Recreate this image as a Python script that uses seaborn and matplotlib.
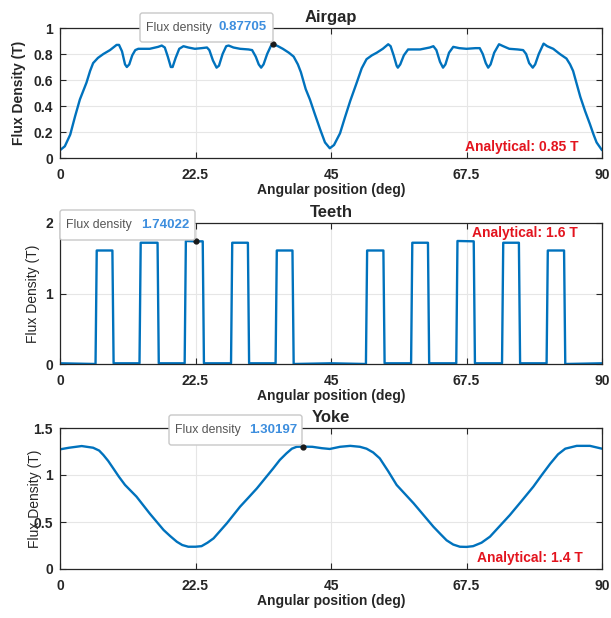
import numpy as np
import pandas as pd
import seaborn as sns
import matplotlib
matplotlib.use("Agg")
from matplotlib import pyplot as plt
from matplotlib.patches import FancyBboxPatch

# ---- data ----
airgap_deg = [0, 0.8, 1.7, 2.5, 3.3, 4.4, 5.0, 5.5, 6.3, 7.2, 8.3, 9.4, 9.8, 10.3, 10.8, 11.1, 11.5,
              12.0, 12.5, 13.0, 14.9, 16.3, 16.9, 17.4, 17.9, 18.4, 18.7, 19.2, 19.8, 20.5, 21.3,
              22.4, 23.5, 24.4, 24.8, 25.4, 26.0, 26.4, 27.0, 27.6, 28.0, 28.8, 29.9, 31.3, 31.9,
              32.5, 33.0, 33.4, 33.8, 34.4, 35.0, 35.4, 36.2, 37.0, 38.0, 38.8, 39.5, 40.0, 40.8,
              41.5, 42.3, 43.2, 44.0, 44.8, 45.5, 46.5, 47.3, 48.2, 49.2, 50.1, 50.9, 51.8, 52.6,
              53.6, 54.5, 54.9, 55.4, 55.9, 56.1, 56.5, 57.1, 57.8, 59.8, 61.4, 62.0, 62.5, 63.1,
              63.6, 64.0, 64.6, 65.3, 66.3, 67.5, 69.0, 69.7, 70.2, 70.7, 71.1, 71.5, 72.1, 72.9,
              73.6, 74.6, 76.0, 76.9, 77.4, 77.9, 78.5, 78.9, 79.5, 80.3, 80.9, 81.9, 83.0, 84.1,
              84.7, 85.2, 85.8, 86.4, 87.2, 88.0, 88.6, 89.1, 90]
airgap_b = [0.06, 0.09, 0.18, 0.32, 0.45, 0.58, 0.67, 0.73, 0.77, 0.80, 0.83, 0.87, 0.87, 0.82, 0.72,
            0.70, 0.72, 0.79, 0.83, 0.84, 0.84, 0.855, 0.865, 0.85, 0.78, 0.70, 0.70, 0.77, 0.84,
            0.86, 0.85, 0.84, 0.845, 0.85, 0.83, 0.75, 0.695, 0.71, 0.80, 0.86, 0.865, 0.85, 0.84,
            0.835, 0.83, 0.78, 0.72, 0.695, 0.72, 0.80, 0.86, 0.877, 0.86, 0.84, 0.81, 0.78, 0.72,
            0.66, 0.53, 0.45, 0.34, 0.22, 0.12, 0.075, 0.10, 0.19, 0.31, 0.44, 0.57, 0.69, 0.76,
            0.79, 0.81, 0.84, 0.875, 0.86, 0.79, 0.71, 0.695, 0.72, 0.79, 0.835, 0.835, 0.85, 0.86,
            0.83, 0.74, 0.695, 0.72, 0.81, 0.855, 0.845, 0.84, 0.845, 0.845, 0.80, 0.73, 0.695,
            0.72, 0.81, 0.875, 0.86, 0.84, 0.835, 0.83, 0.80, 0.73, 0.695, 0.72, 0.80, 0.88, 0.86,
            0.84, 0.80, 0.765, 0.72, 0.67, 0.57, 0.47, 0.36, 0.26, 0.18, 0.12, 0.06]

teeth_deg = [0, 5.9, 6.1, 8.7, 8.9, 13.2, 13.4, 16.2, 16.4, 20.7, 20.9, 22.5, 23.7, 23.9, 28.4, 28.6,
             31.2, 31.4, 35.8, 36.0, 38.6, 38.8, 45, 50.8, 51.0, 53.7, 53.9, 58.3, 58.5, 61.1, 61.3,
             65.8, 66.0, 68.7, 68.9, 73.4, 73.6, 76.2, 76.4, 80.8, 81.0, 83.7, 83.9, 90]
teeth_b = [0.01, 0.0, 1.61, 1.61, 0.01, 0.01, 1.72, 1.72, 0.01, 0.01, 1.745, 1.74, 1.74, 0.01, 0.01,
           1.72, 1.72, 0.01, 0.01, 1.61, 1.61, 0.0, 0.01, 0.0, 1.61, 1.61, 0.01, 0.01, 1.72, 1.72,
           0.01, 0.01, 1.745, 1.74, 0.01, 0.01, 1.72, 1.72, 0.01, 0.01, 1.61, 1.61, 0.0, 0.01]

yoke_deg = [0, 1.5, 3.6, 5.5, 6.5, 7.2, 8.0, 8.85, 9.8, 10.8, 12.7, 14.9, 17.2, 18.3, 19.4, 20.3, 21.3,
            22.5, 23.5, 24.5, 25.5, 27.7, 29.9, 31.3, 32.7, 35.4, 36.5, 37.6, 38.5, 39.3, 40.3, 41.9,
            43.5, 44.8, 46.5, 48.2, 49.8, 50.9, 52.0, 53.1, 54.5, 55.9, 58.7, 62.0, 63.2, 64.2, 65.3,
            66.4, 67.5, 68.6, 70.0, 71.4, 74.7, 76.6, 78.6, 80.0, 81.4, 82.7, 83.9, 85.8, 88.0, 90]
yoke_b = [1.273, 1.29, 1.308, 1.29, 1.26, 1.213, 1.15, 1.07, 0.98, 0.894, 0.77, 0.59, 0.415, 0.35,
          0.29, 0.255, 0.237, 0.237, 0.243, 0.28, 0.326, 0.486, 0.663, 0.76, 0.858, 1.07, 1.16, 1.23,
          1.28, 1.30, 1.302, 1.30, 1.285, 1.277, 1.30, 1.31, 1.30, 1.28, 1.24, 1.177, 1.04, 0.894,
          0.70, 0.45, 0.37, 0.305, 0.26, 0.237, 0.235, 0.243, 0.28, 0.344, 0.574, 0.72, 0.876, 1.0,
          1.12, 1.22, 1.28, 1.31, 1.31, 1.28]

titles = ["Airgap", "Teeth", "Yoke"]
analytical = ["Analytical: 0.85 T", "Analytical: 1.6 T", "Analytical: 1.4 T"]
tip_x = [35.4, 22.5, 40.3]
tip_val = [0.87705, 1.74022, 1.30197]
x_ticks = [0, 22.5, 45, 67.5, 90]
x_ticklabels = ["0", "22.5", "45", "67.5", "90"]
y_ticks = [[0, 0.2, 0.4, 0.6, 0.8, 1], [0, 1, 2], [0, 0.5, 1, 1.5]]
y_ticklabels = [["0", "0.2", "0.4", "0.6", "0.8", "1"], ["0", "1", "2"], ["0", "0.5", "1", "1.5"]]
y_lims = [(0, 1), (0, 2), (0, 1.5)]

sns.set_theme(style="whitegrid")
plt.rcParams['font.family'] = ['Liberation Sans', 'DejaVu Sans']

W, H = 611, 618
fig = plt.figure(figsize=(W / 100, H / 100), dpi=100)


def fx(px):
    return px / W


def fy(py):
    return 1 - py / H


# axes boxes in pixels: left, top, right, bottom
boxes = [(60, 28, 602, 158), (60, 223, 602, 364), (60, 428, 602, 569)]
frames = [pd.DataFrame({"deg": airgap_deg, "B": airgap_b}),
          pd.DataFrame({"deg": teeth_deg, "B": teeth_b}),
          pd.DataFrame({"deg": yoke_deg, "B": yoke_b})]
ylab_x = [-0.062, -0.036, -0.033]
ylab_weight = ["bold", "normal", "normal"]
ana_pos = [(0.956, 0.085), (0.956, 0.929), (0.965, 0.078)]
# tooltip boxes in pixels: left, top, right, bottom, value text x
tips = [(140, 13, 273, 42, 219), (60, 210, 195, 240, 141), (169, 415, 302, 445, 249)]

blue = "#0072BD"
dark = "#262626"

for i in range(3):
    l, t, r, b = boxes[i]
    ax = fig.add_axes([fx(l), fy(b), fx(r) - fx(l), fy(t) - fy(b)])
    sns.lineplot(data=frames[i], x="deg", y="B", ax=ax, color=blue, linewidth=1.7,
                 estimator=None, sort=False)
    ax.set_xlim(0, 90)
    ax.set_ylim(*y_lims[i])
    ax.set_xticks(x_ticks)
    ax.set_xticklabels(x_ticklabels)
    ax.set_yticks(y_ticks[i])
    ax.set_yticklabels(y_ticklabels[i])
    ax.tick_params(direction="in", length=4, width=0.8, colors=dark, labelsize=10,
                   top=True, right=True, bottom=True, left=True)
    ax.tick_params(axis="x", pad=7)
    ax.tick_params(axis="y", pad=5)
    for lab in ax.get_xticklabels() + ax.get_yticklabels():
        lab.set_fontweight("bold")
        lab.set_color(dark)
    ax.grid(True, color="#e6e6e6", linewidth=0.8)
    ax.set_facecolor("white")
    for s in ax.spines.values():
        s.set_color(dark)
        s.set_linewidth(0.9)
    ax.set_title(titles[i], fontsize=12, fontweight="bold", color=dark, pad=4)
    ax.set_xlabel("Angular position (deg)", fontsize=10, fontweight="bold", color=dark, labelpad=1)
    ax.set_ylabel("Flux Density (T)", fontsize=10, fontweight=ylab_weight[i], color=dark)
    ax.yaxis.set_label_coords(ylab_x[i], 0.5)
    ax.text(ana_pos[i][0], ana_pos[i][1], analytical[i], transform=ax.transAxes,
            ha="right", va="center", color="#e3141e", fontsize=10, fontweight="bold")
    # datatip marker
    ax.plot([tip_x[i]], [tip_val[i]], marker="o", ms=3.5, color="#1a1a1a", clip_on=False, zorder=6)

    # datatip box
    bl, bt, br, bb, vx = tips[i]
    patch = FancyBboxPatch((fx(bl), fy(bb)), fx(br) - fx(bl), fy(bt) - fy(bb),
                           boxstyle="round,pad=0,rounding_size=0.004",
                           transform=fig.transFigure, facecolor="white",
                           edgecolor="#c8c8c8", linewidth=1.0, zorder=10)
    fig.add_artist(patch)
    cy = fy((bt + bb) / 2)
    fig.text(fx(bl + 6), cy, "Flux density", ha="left", va="center", fontsize=8.8,
             color="#555555", zorder=11)
    fig.text(fx(vx), cy, f"{tip_val[i]:.5f}", ha="left", va="center", fontsize=9.5,
             fontweight="bold", color="#3d8ede", zorder=11)

fig.savefig("out.png", dpi=100)
